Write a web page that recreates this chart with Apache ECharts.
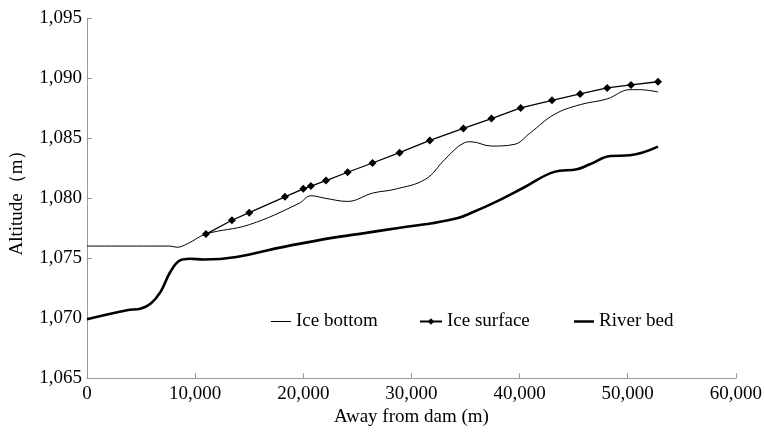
<!DOCTYPE html>
<html>
<head>
<meta charset="utf-8">
<script src="https://cdn.jsdelivr.net/npm/echarts@6/dist/echarts.min.js"></script>
<style>
html,body{margin:0;padding:0;background:#fff;}
#chart{width:765px;height:432px;}
</style>
</head>
<body>
<div id="chart"></div>
<script>
// ---- data ----
var seriesNames = ['Ice bottom', 'Ice surface', 'River bed'];

var iceBottomX = [0, 7700, 8300, 9300, 11000, 15000, 19600, 20700, 22100, 24100, 26400, 28500, 31300, 33100, 34900, 35500, 37400, 39500, 41000, 43200, 45600, 48100, 50200, 51100, 52800];
var iceBottomY = [1076.0, 1076.0, 1075.9, 1076.2, 1077.0, 1077.78, 1079.55, 1080.19, 1079.97, 1079.72, 1080.41, 1080.74, 1081.57, 1083.23, 1084.61, 1084.69, 1084.33, 1084.47, 1085.44, 1086.96, 1087.78, 1088.26, 1089.03, 1089.03, 1088.84];

var iceSurfaceX = [11000, 13400, 15000, 18300, 20000, 20700, 22100, 24100, 26400, 28900, 31700, 34800, 37400, 40100, 43000, 45600, 48100, 50300, 52800];
var iceSurfaceY = [1077.0, 1078.15, 1078.78, 1080.1, 1080.77, 1081.0, 1081.46, 1082.15, 1082.92, 1083.78, 1084.8, 1085.8, 1086.62, 1087.51, 1088.14, 1088.67, 1089.17, 1089.42, 1089.69];

var riverBedX = [0, 3700, 5000, 5900, 6800, 7700, 8600, 9500, 10800, 19600, 22500, 25800, 28800, 31900, 34300, 35500, 38000, 40400, 43200, 45300, 46500, 48400, 50200, 52800];
var riverBedY = [1069.91, 1070.66, 1070.8, 1071.21, 1072.18, 1073.84, 1074.8, 1074.94, 1074.88, 1076.18, 1076.66, 1077.1, 1077.51, 1077.9, 1078.34, 1078.75, 1079.77, 1080.88, 1082.18, 1082.4, 1082.81, 1083.5, 1083.56, 1084.28];

var xTicks = [0, 10000, 20000, 30000, 40000, 50000, 60000];
var yTicks = [1065, 1070, 1075, 1080, 1085, 1090, 1095];

function zip(xs, ys) { return xs.map(function (x, i) { return [x, ys[i]]; }); }
function fmt(v) { return String(v).replace(/\B(?=(\d{3})+(?!\d))/g, ','); }

var FONT = 'Liberation Serif';
var chart = echarts.init(document.getElementById('chart'), null, {renderer: 'canvas'});

var legendText = {color: '#000', fontFamily: FONT, fontSize: 19};

chart.setOption({
  animation: false,
  backgroundColor: '#fff',
  textStyle: {fontFamily: FONT},
  grid: {left: 86, right: 25, top: 18, bottom: 52, containLabel: false},
  legend: [
    {data: [{name: seriesNames[0], icon: 'rect'}], left: 266, top: 307, itemWidth: 20, itemHeight: 1, itemGap: 0, textStyle: legendText, selectedMode: false},
    {data: [seriesNames[1]], left: 414, top: 307, itemWidth: 22, itemHeight: 8, itemGap: 0, textStyle: legendText, selectedMode: false},
    {data: [{name: seriesNames[2], icon: 'rect'}], left: 569, top: 307, itemWidth: 20, itemHeight: 2.5, itemGap: 0, textStyle: legendText, selectedMode: false}
  ],
  xAxis: {
    type: 'value', min: xTicks[0], max: xTicks[xTicks.length - 1], interval: 10000,
    name: 'Away from dam (m)', nameLocation: 'middle', nameGap: 28,
    nameTextStyle: {color: '#000', fontFamily: FONT, fontSize: 19},
    axisLine: {show: true, lineStyle: {color: '#999', width: 1}},
    axisTick: {show: true, inside: true, length: 5, lineStyle: {color: '#999'}},
    axisLabel: {color: '#000', fontFamily: FONT, fontSize: 19, margin: 6, formatter: fmt},
    splitLine: {show: false}
  },
  yAxis: {
    type: 'value', min: yTicks[0], max: yTicks[yTicks.length - 1], interval: 5,
    name: 'Altitude（m）', nameLocation: 'middle', nameGap: 60,
    nameTextStyle: {color: '#000', fontFamily: FONT, fontSize: 19},
    axisLine: {show: true, lineStyle: {color: '#999', width: 1}},
    axisTick: {show: true, inside: true, length: 5, lineStyle: {color: '#999'}},
    axisLabel: {color: '#000', fontFamily: FONT, fontSize: 19, margin: 5, formatter: fmt},
    splitLine: {show: false}
  },
  series: [
    {
      name: seriesNames[0], type: 'line', data: zip(iceBottomX, iceBottomY),
      smooth: 0.4, showSymbol: false, symbol: 'none',
      lineStyle: {color: '#000', width: 1}, itemStyle: {color: '#000'}
    },
    {
      name: seriesNames[1], type: 'line', data: zip(iceSurfaceX, iceSurfaceY),
      smooth: false, symbol: 'diamond', symbolSize: 8, showSymbol: true,
      lineStyle: {color: '#000', width: 1.3}, itemStyle: {color: '#000'}
    },
    {
      name: seriesNames[2], type: 'line', data: zip(riverBedX, riverBedY),
      smooth: 0.4, showSymbol: false, symbol: 'none',
      lineStyle: {color: '#000', width: 2.6}, itemStyle: {color: '#000'}
    }
  ]
});
</script>
</body>
</html>
